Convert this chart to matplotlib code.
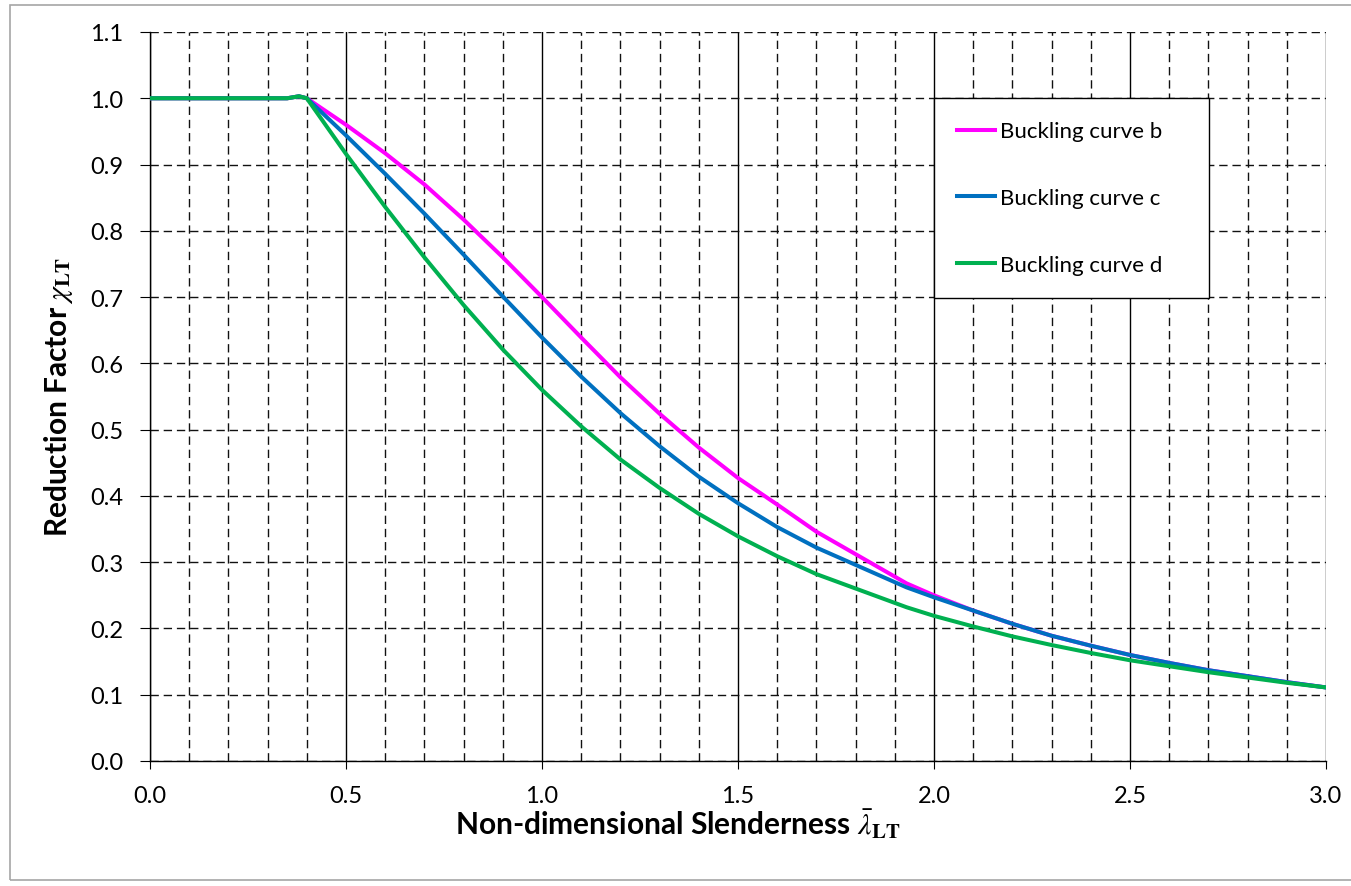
import matplotlib
matplotlib.use('Agg')
import matplotlib.pyplot as plt
from matplotlib.ticker import MultipleLocator
from matplotlib.patches import Rectangle

# slenderness values and reduction factors
lam = [0.0, 0.1, 0.2, 0.3, 0.35, 0.38, 0.4, 0.5, 0.6, 0.7, 0.8, 0.9, 1.0,
       1.1, 1.2, 1.3, 1.4, 1.5, 1.6, 1.7, 1.93, 2.0, 2.1, 2.2, 2.3, 2.4,
       2.5, 2.6, 2.7, 2.8, 2.9, 3.0]
curve_b = [1.0, 1.0, 1.0, 1.0, 1.0, 1.003, 1.0, 0.960, 0.917, 0.870, 0.817,
           0.760, 0.700, 0.639, 0.579, 0.524, 0.473, 0.427, 0.387, 0.346,
           0.268, 0.250, 0.227, 0.207, 0.189, 0.174, 0.160, 0.148, 0.137,
           0.128, 0.119, 0.111]
curve_c = [1.0, 1.0, 1.0, 1.0, 1.0, 1.003, 1.0, 0.944, 0.886, 0.826, 0.764,
           0.701, 0.639, 0.580, 0.525, 0.475, 0.429, 0.389, 0.353, 0.322,
           0.262, 0.247, 0.227, 0.207, 0.189, 0.174, 0.160, 0.148, 0.137,
           0.128, 0.119, 0.111]
curve_d = [1.0, 1.0, 1.0, 1.0, 1.0, 1.003, 1.0, 0.916, 0.836, 0.760, 0.688,
           0.621, 0.560, 0.505, 0.455, 0.412, 0.373, 0.339, 0.309, 0.282,
           0.232, 0.219, 0.203, 0.188, 0.175, 0.163, 0.152, 0.143, 0.134,
           0.126, 0.118, 0.111]
labels = ['Buckling curve b', 'Buckling curve c', 'Buckling curve d']
colors = ['#FF00FF', '#0070C0', '#00B050']

plt.rcParams['font.family'] = ['Lato', 'DejaVu Sans']
plt.rcParams['mathtext.fontset'] = 'stix'
plt.rcParams['xtick.labelsize'] = 17
plt.rcParams['ytick.labelsize'] = 17
plt.rcParams['xtick.major.size'] = 6
plt.rcParams['ytick.major.size'] = 7
plt.rcParams['xtick.major.pad'] = 11
plt.rcParams['ytick.major.pad'] = 12
plt.rcParams['xtick.minor.size'] = 0

fig = plt.figure(figsize=(13.51, 8.87), dpi=100)
ax = fig.add_axes([150/1351, 125/887, 1176/1351, 729/887])

# outer chart border
fig.patches.append(Rectangle((10/1351, 6/887), 1.0, 875/887, transform=fig.transFigure,
                             fill=False, edgecolor='#A6A6A6', linewidth=1.2, zorder=0))

for y, lab, col in zip([curve_b, curve_c, curve_d], labels, colors):
    ax.plot(lam, y, color=col, linewidth=2.9, label=lab, zorder=3,
            solid_joinstyle='round')

ax.set_xlim(0, 3.0)
ax.set_ylim(0, 1.1)
ax.xaxis.set_major_locator(MultipleLocator(0.5))
ax.xaxis.set_minor_locator(MultipleLocator(0.1))
ax.yaxis.set_major_locator(MultipleLocator(0.1))
ax.xaxis.set_major_formatter(lambda v, p: f'{v:.1f}')
ax.yaxis.set_major_formatter(lambda v, p: f'{v:.1f}')

ax.grid(which='major', axis='x', color='black', linewidth=1.0, linestyle='-')
ax.grid(which='minor', axis='x', color='#111111', linewidth=1.0, linestyle=(0, (6, 3.5)))
ax.grid(which='major', axis='y', color='#111111', linewidth=1.0, linestyle=(0, (6, 3.5)))
ax.set_axisbelow(True)

for s in ['top', 'right']:
    ax.spines[s].set_visible(False)
for s in ['left', 'bottom']:
    ax.spines[s].set_linewidth(1.0)
    ax.spines[s].set_color('black')

ax.set_xlabel(r'Non-dimensional Slenderness $\bar{\lambda}_{\mathbf{LT}}$',
              fontsize=21.5, fontweight='bold')
ax.set_ylabel(r'Reduction Factor $\chi_{\mathbf{LT}}$', fontsize=21.5, fontweight='bold')
ax.xaxis.set_label_coords(0.449, -0.063)
ax.yaxis.set_label_coords(-0.064, 0.5)

# legend box spans x 934..1209 px, top at y 99 px
x0 = (934 - 150) / 1176
w = (1209 - 934) / 1176
top = (762 - 99) / 729
leg = ax.legend(loc='upper left', bbox_to_anchor=(x0, top - 0.3, w, 0.3), mode='expand',
                borderaxespad=0, fancybox=False, framealpha=1, edgecolor='black',
                fontsize=16, handlelength=1.7, handletextpad=0.2,
                labelspacing=2.1, borderpad=1.05)
leg.get_frame().set_linewidth(1.0)

plt.savefig('out.png', dpi=100)
